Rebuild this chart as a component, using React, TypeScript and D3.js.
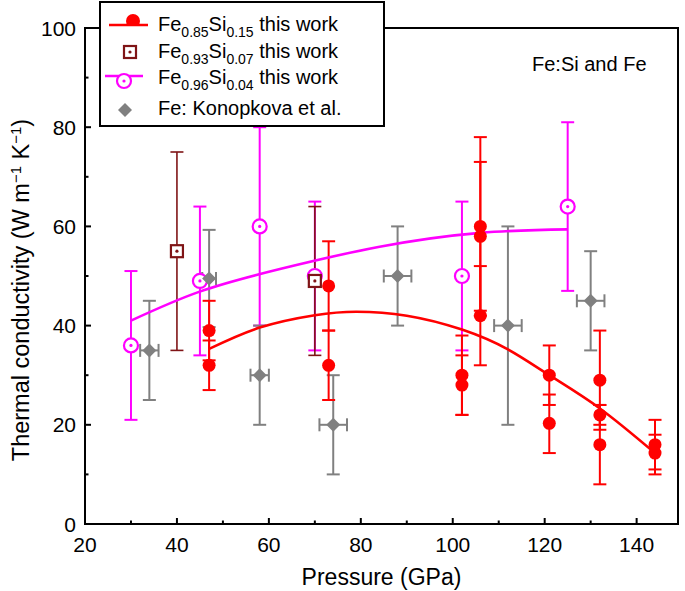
import React from "react";
import * as d3 from "d3";

const xTicks = [20, 40, 60, 80, 100, 120, 140];
const xMinor = [30, 50, 70, 90, 110, 130];
const yTicks = [0, 20, 40, 60, 80, 100];
const yMinor = [10, 30, 50, 70, 90];

// Fe0.85Si0.15 this work
const s15P = [47, 47, 73, 73, 102, 102, 106, 106, 106, 121, 121, 132, 132, 132, 144, 144];
const s15K = [39, 32, 48, 32, 30, 28, 60, 58, 42, 30, 20.3, 29, 22, 16, 16, 14.3];
const s15Lo = [33, 27, 39, 25, 22, 22, 42, 43, 32, 24, 14.3, 19, 20, 8, 11, 10];
const s15Hi = [45, 37, 57, 39, 38, 34, 78, 73, 52, 36, 26.1, 39, 24, 24, 21, 18];

// Fe0.93Si0.07 this work
const s07P = [40, 70];
const s07K = [55, 49];
const s07Lo = [35, 34];
const s07Hi = [75, 64];

// Fe0.96Si0.04 this work
const s04P = [30, 45, 58, 70, 102, 125];
const s04K = [36, 49, 60, 50, 50, 64];
const s04Lo = [21, 34, 40, 35, 35, 47];
const s04Hi = [51, 64, 80, 65, 65, 81];

// Fe: Konopkova et al.
const feP = [34, 47, 58, 74, 88, 112, 130];
const feK = [35, 49.5, 30, 20, 50, 40, 45];
const feYErr = [10, 9.8, 10, 10, 10, 20, 10];
const feXErr = [2, 1.5, 2, 3, 3, 3, 3];

// fit curves
const fit15P = [47, 58, 70, 79, 90, 102, 112, 121, 132, 144];
const fit15K = [35.3, 39.6, 42.1, 42.8, 42.0, 39.2, 35.2, 30.0, 23.3, 14.3];
const fit04P = [30, 44.8, 62.4, 84.1, 106, 125];
const fit04K = [41, 46.8, 51.4, 55.9, 58.7, 59.4];

const RED = "#ff0000";
const MAG = "#ff00ff";
const DRED = "#7f1416";
const GRAY = "#808080";
const FONT = "'Liberation Sans', Arial, Helvetica, sans-serif";

export default function App() {
  const W = 685, H = 591;
  const L = 85, R = 678, T = 28, B = 524;
  const x = d3.scaleLinear().domain([20, 149]).range([L, R]);
  const y = d3.scaleLinear().domain([0, 100]).range([B, T]);
  const line = d3
    .line<[number, number]>()
    .x((d) => x(d[0]))
    .y((d) => y(d[1]))
    .curve(d3.curveNatural);
  const cap = 6.5;

  const vbar = (px: number, lo: number, hi: number, color: string, w: number, key: string) => (
    <g key={key} stroke={color} strokeWidth={w}>
      <line x1={x(px)} x2={x(px)} y1={y(lo)} y2={y(hi)} />
      <line x1={x(px) - cap} x2={x(px) + cap} y1={y(lo)} y2={y(lo)} />
      <line x1={x(px) - cap} x2={x(px) + cap} y1={y(hi)} y2={y(hi)} />
    </g>
  );

  const diamond = (cx: number, cy: number, r: number) =>
    `M${cx},${cy - r}L${cx + r},${cy}L${cx},${cy + r}L${cx - r},${cy}Z`;

  return (
    <svg width={W} height={H} style={{ position: "absolute", left: 0, top: 0, background: "#fff" }} fontFamily={FONT}>
      <defs>
        <clipPath id="domeClip">
          <rect x={118} y={5} width={30} height={21} />
        </clipPath>
      </defs>
      {/* frame */}
      <rect x={L} y={T} width={R - L} height={B - T} fill="none" stroke="#000" strokeWidth={2} />
      {/* x ticks */}
      {xTicks.map((t) => (
        <g key={"xt" + t}>
          <line x1={x(t)} x2={x(t)} y1={B} y2={B - 6} stroke="#000" strokeWidth={2} />
          <text x={x(t)} y={B + 28} textAnchor="middle" fontSize={21}>{t}</text>
        </g>
      ))}
      {xMinor.map((t) => (
        <line key={"xm" + t} x1={x(t)} x2={x(t)} y1={B} y2={B - 3.5} stroke="#000" strokeWidth={2} />
      ))}
      {yTicks.map((t) => (
        <g key={"yt" + t}>
          <line x1={L} x2={L + 6} y1={y(t)} y2={y(t)} stroke="#000" strokeWidth={2} />
          <text x={L - 9} y={y(t) + 7.5} textAnchor="end" fontSize={21}>{t}</text>
        </g>
      ))}
      {yMinor.map((t) => (
        <line key={"ym" + t} x1={L} x2={L + 3.5} y1={y(t)} y2={y(t)} stroke="#000" strokeWidth={2} />
      ))}
      {/* axis titles */}
      <text x={(L + R) / 2} y={585} textAnchor="middle" fontSize={23}>Pressure (GPa)</text>
      <text transform={`translate(29,${(T + B) / 2 + 14}) rotate(-90)`} textAnchor="middle" fontSize={23.5}>
        Thermal conductivity (W m
        <tspan dy={-8} fontSize={15}>−1</tspan>
        <tspan dy={8}> K</tspan>
        <tspan dy={-8} fontSize={15}>−1</tspan>
        <tspan dy={8}>)</tspan>
      </text>
      <text x={532} y={71} fontSize={20}>Fe:Si and Fe</text>

      {/* error bars */}
      {s04P.map((p, i) => vbar(p, s04Lo[i], s04Hi[i], MAG, 2, "m" + i))}
      {feP.map((p, i) => (
        <g key={"fe" + i} stroke={GRAY} strokeWidth={2}>
          {vbar(p, feK[i] - feYErr[i], feK[i] + feYErr[i], GRAY, 2, "fv" + i)}
          <line x1={x(p - feXErr[i])} x2={x(p + feXErr[i])} y1={y(feK[i])} y2={y(feK[i])} />
          <line x1={x(p - feXErr[i])} x2={x(p - feXErr[i])} y1={y(feK[i]) - cap} y2={y(feK[i]) + cap} />
          <line x1={x(p + feXErr[i])} x2={x(p + feXErr[i])} y1={y(feK[i]) - cap} y2={y(feK[i]) + cap} />
        </g>
      ))}
      {s07P.map((p, i) => vbar(p, s07Lo[i], s07Hi[i], DRED, 1.6, "d" + i))}
      {s15P.map((p, i) => vbar(p, s15Lo[i], s15Hi[i], RED, 2, "r" + i))}

      {/* fits */}
      <path d={line(fit04P.map((p, i) => [p, fit04K[i]]) as [number, number][]) || ""} fill="none" stroke={MAG} strokeWidth={2.6} />
      <path d={line(fit15P.map((p, i) => [p, fit15K[i]]) as [number, number][]) || ""} fill="none" stroke={RED} strokeWidth={2.6} />

      {/* markers */}
      {s04P.map((p, i) => (
        <g key={"mc" + i}>
          <circle cx={x(p)} cy={y(s04K[i])} r={7} fill="#fff" stroke={MAG} strokeWidth={2.2} />
          <circle cx={x(p)} cy={y(s04K[i])} r={1.6} fill={MAG} />
        </g>
      ))}
      {feP.map((p, i) => (
        <path key={"fd" + i} d={diamond(x(p), y(feK[i]), 7)} fill={GRAY} />
      ))}
      {s07P.map((p, i) => (
        <g key={"ds" + i}>
          <rect x={x(p) - 6} y={y(s07K[i]) - 6} width={12} height={12} fill="#fff" stroke={DRED} strokeWidth={2.2} />
          <circle cx={x(p)} cy={y(s07K[i])} r={1.6} fill={DRED} />
        </g>
      ))}
      {s15P.map((p, i) => (
        <circle key={"rc" + i} cx={x(p)} cy={y(s15K[i])} r={6.5} fill={RED} />
      ))}

      {/* legend */}
      <rect x={100} y={2} width={284} height={124} fill="#fff" stroke="#000" strokeWidth={2} />
      <line x1={109} x2={148} y1={25} y2={25} stroke={RED} strokeWidth={2.6} />
      <circle cx={133} cy={21} r={7} fill={RED} clipPath="url(#domeClip)" />
      <rect x={124} y={46} width={12} height={12} fill="#fff" stroke={DRED} strokeWidth={2.2} />
      <circle cx={130} cy={52} r={1.6} fill={DRED} />
      <line x1={105} x2={143} y1={76} y2={76} stroke={MAG} strokeWidth={2.6} />
      <circle cx={124} cy={81} r={7} fill="#fff" stroke={MAG} strokeWidth={2.2} />
      <circle cx={124} cy={81} r={1.6} fill={MAG} />
      <path d={diamond(125, 110, 7)} fill={GRAY} />
      <g fontSize={20}>
        <text x={158} y={31}>
          Fe<tspan dy={6} fontSize={14}>0.85</tspan><tspan dy={-6}>Si</tspan><tspan dy={6} fontSize={14}>0.15</tspan><tspan dy={-6}> this work</tspan>
        </text>
        <text x={158} y={58}>
          Fe<tspan dy={6} fontSize={14}>0.93</tspan><tspan dy={-6}>Si</tspan><tspan dy={6} fontSize={14}>0.07</tspan><tspan dy={-6}> this work</tspan>
        </text>
        <text x={158} y={84}>
          Fe<tspan dy={6} fontSize={14}>0.96</tspan><tspan dy={-6}>Si</tspan><tspan dy={6} fontSize={14}>0.04</tspan><tspan dy={-6}> this work</tspan>
        </text>
        <text x={158} y={115}>Fe: Konopkova et al.</text>
      </g>
    </svg>
  );
}
